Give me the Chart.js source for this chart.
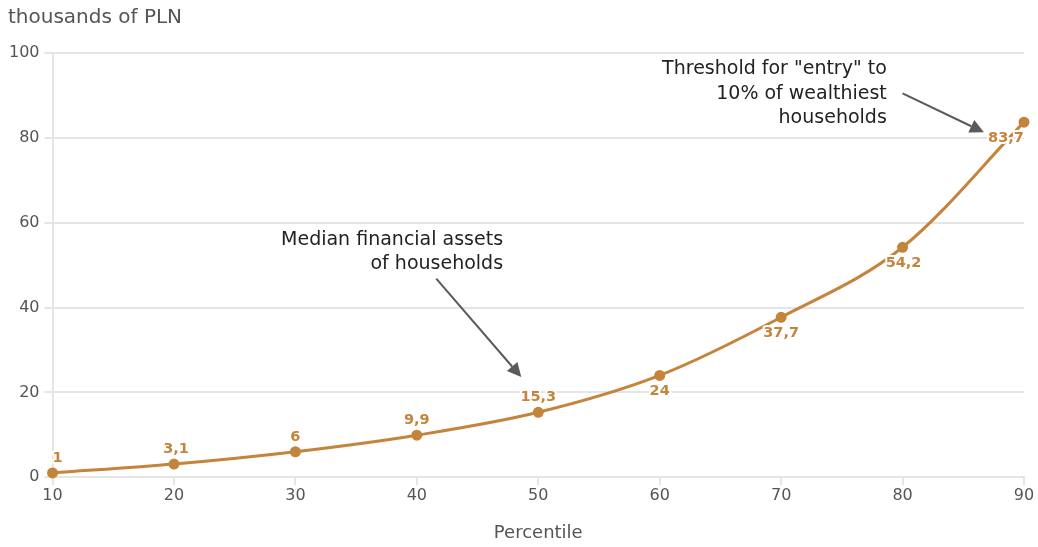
<!DOCTYPE html>
<html><head><meta charset="utf-8">
<script src="https://cdn.jsdelivr.net/npm/chart.js@4.4.1/dist/chart.umd.min.js"></script>
<style>html,body{margin:0;padding:0;background:#fff}#wrap{width:1038px;height:547px;position:relative}</style>
</head><body><div id="wrap"><canvas id="c"></canvas></div>
<script>
const percentiles = [10, 20, 30, 40, 50, 60, 70, 80, 90];
const assets = [1, 3.1, 6, 9.9, 15.3, 24, 37.7, 54.2, 83.7];
const valueLabels = ["1", "3,1", "6", "9,9", "15,3", "24", "37,7", "54,2", "83,7"];
const yTicks = [0, 20, 40, 60, 80, 100];
const xTicks = [10, 20, 30, 40, 50, 60, 70, 80, 90];
const yTitle = "thousands of PLN";
const xTitle = "Percentile";
const notes = [
  {lines: ["Median financial assets", "of households"], x: 47.1, y: 56.0, from: [41.6, 46.8], to: [48.6, 23.6]},
  {lines: ["Threshold for \"entry\" to", "10% of wealthiest", "households"], x: 78.7, y: 96.2, from: [80.0, 90.5], to: [86.7, 81.3]}
];
const labelPlace = [[5,-15],[2,-15],[0,-15],[0,-15],[0,-15],[0,16],[0,16],[1,16],[-18,16]];

const FONT = "'DejaVu Sans', sans-serif";
const ORANGE = "#c4843c";

const overlay = {
  id: 'overlay',
  afterDatasetsDraw(chart) {
    const ctx = chart.ctx, xs = chart.scales.x, ys = chart.scales.y;
    ctx.save();
    ctx.fillStyle = '#555';
    ctx.font = "20px " + FONT;
    ctx.textAlign = 'left'; ctx.textBaseline = 'middle';
    ctx.fillText(yTitle, 8, 18);
    ctx.font = "bold 14.5px " + FONT;
    ctx.textAlign = 'center';
    const meta = chart.getDatasetMeta(0);
    meta.data.forEach((pt, i) => {
      const [dx, dy] = labelPlace[i];
      const tx = pt.x + dx, ty = pt.y + dy;
      ctx.lineWidth = 4; ctx.strokeStyle = '#fff'; ctx.lineJoin = 'round';
      ctx.strokeText(valueLabels[i], tx, ty);
      ctx.fillStyle = ORANGE;
      ctx.fillText(valueLabels[i], tx, ty);
    });
    ctx.font = "19px " + FONT;
    ctx.textAlign = 'right';
    notes.forEach(n => {
      const px = xs.getPixelForValue(n.x), py = ys.getPixelForValue(n.y);
      ctx.fillStyle = '#222';
      n.lines.forEach((l, k) => ctx.fillText(l, px, py + k * 24.5));
      const x1 = xs.getPixelForValue(n.from[0]), y1 = ys.getPixelForValue(n.from[1]);
      const x2 = xs.getPixelForValue(n.to[0]), y2 = ys.getPixelForValue(n.to[1]);
      const ang = Math.atan2(y2 - y1, x2 - x1);
      const hl = 14, hw = 7;
      const bx = x2 - hl * Math.cos(ang), by = y2 - hl * Math.sin(ang);
      ctx.strokeStyle = '#5a5a5a'; ctx.lineWidth = 2;
      ctx.beginPath(); ctx.moveTo(x1, y1); ctx.lineTo(bx, by); ctx.stroke();
      ctx.fillStyle = '#5a5a5a';
      ctx.beginPath();
      ctx.moveTo(x2, y2);
      ctx.lineTo(bx + hw * Math.sin(ang), by - hw * Math.cos(ang));
      ctx.lineTo(bx - hw * Math.sin(ang), by + hw * Math.cos(ang));
      ctx.closePath(); ctx.fill();
    });
    ctx.restore();
  }
};

new Chart(document.getElementById('c'), {
  type: 'line',
  data: {
    datasets: [{
      data: percentiles.map((p, i) => ({x: p, y: assets[i]})),
      borderColor: ORANGE, backgroundColor: ORANGE,
      borderWidth: 3, pointRadius: 4, pointHoverRadius: 4,
      tension: 0.4, cubicInterpolationMode: 'monotone', clip: false
    }]
  },
  options: {
    responsive: true, maintainAspectRatio: false, animation: false,
    events: [],
    layout: {padding: {top: 53, right: 14, left: 4, bottom: 3}},
    plugins: {legend: {display: false}, tooltip: {enabled: false}},
    scales: {
      x: {
        type: 'linear', min: 10, max: 90,
        afterBuildTicks: s => { s.ticks = xTicks.map(v => ({value: v})); },
        grid: {drawOnChartArea: false, drawTicks: true, tickLength: 8, color: '#e5e5e5', lineWidth: 2},
        border: {color: '#e5e5e5', width: 2},
        ticks: {color: '#555', font: {family: FONT, size: 16}, padding: 1, maxRotation: 0},
        title: {display: true, text: xTitle, color: '#555', font: {family: FONT, size: 18}, padding: {top: 16, bottom: 0}}
      },
      y: {
        min: 0, max: 100,
        afterBuildTicks: s => { s.ticks = yTicks.map(v => ({value: v})); },
        grid: {color: '#e5e5e5', lineWidth: 2, tickLength: 8},
        border: {color: '#e5e5e5', width: 2},
        ticks: {color: '#555', font: {family: FONT, size: 16}, padding: 5}
      }
    }
  },
  plugins: [overlay]
});
</script></body></html>
